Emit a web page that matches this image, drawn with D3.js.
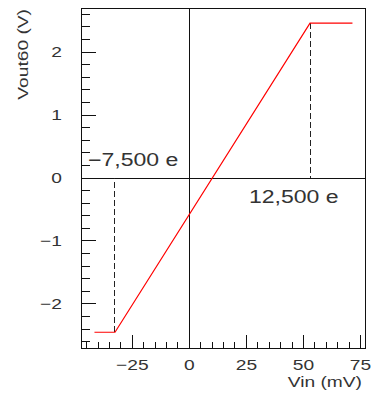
<!DOCTYPE html>
<html>
<head>
<meta charset="utf-8">
<script src="https://cdn.jsdelivr.net/npm/d3@7"></script>
<style>
  body { margin: 0; background: #fff; }
  text { font-family: "Liberation Sans", Arial, sans-serif; fill: #333; }
</style>
</head>
<body>
<svg id="chart" width="372" height="404"></svg>
<script>
// transfer curve
const vin = [-41.6, -32.6, 52.9, 71.5];
const vout = [-2.45, -2.45, 2.46, 2.46];

const xTicks = [-25, 0, 25, 50, 75];
const yTicks = [-2, -1, 0, 1, 2];

// saturation markers
const markerVin = [-32.6, 52.9];
const markerVout = [-2.45, 2.46];
const markerLabels = ["\u22127,500 e", "12,500 e"];

const padL = 81, padR = 365, padT = 8, padB = 348;

const svg = d3.select('svg#chart');

let x = d3.scaleLinear().domain([-47.5, 77]).range([padL, padR]);
let y = d3.scaleLinear().domain([-2.7, 2.7]).range([padB, padT]);

const fmt = d => d < 0 ? '\u2212' + Math.abs(d) : '' + d;
const sx = 1.28; // the original font is drawn wide

function label(g, px, py, txt, size, anchor, rot) {
    g.append('text')
        .attr('transform', `translate(${px},${py})` + (rot ? ` rotate(${rot})` : '') + ` scale(${sx},1)`)
        .attr('text-anchor', anchor)
        .attr('font-size', size)
        .text(txt);
}

// frame
svg.append('rect')
    .attr('x', padL).attr('y', padT)
    .attr('width', padR - padL).attr('height', padB - padT)
    .attr('fill', 'none').attr('stroke', '#111').attr('stroke-width', 1)
    .attr('shape-rendering', 'crispEdges');

// zero lines
svg.append('line')
    .attr('x1', x(0)).attr('x2', x(0)).attr('y1', padT).attr('y2', padB)
    .attr('stroke', '#111').attr('shape-rendering', 'crispEdges');
svg.append('line')
    .attr('x1', padL).attr('x2', padR).attr('y1', y(0)).attr('y2', y(0))
    .attr('stroke', '#111').attr('shape-rendering', 'crispEdges');

// x ticks (pointing up from the bottom)
let xMinor = d3.range(-45, 76, 5);
svg.selectAll('line.xt')
    .data(xMinor)
    .enter().append('line')
    .attr('class', 'xt')
    .attr('x1', d => x(d)).attr('x2', d => x(d))
    .attr('y1', padB)
    .attr('y2', d => padB - (d % 25 === 0 ? 13 : 6))
    .attr('stroke', '#111').attr('shape-rendering', 'crispEdges');

// y ticks (pointing right from the left)
let yMinor = d3.range(-26, 27, 2).map(d => d / 10);
svg.selectAll('line.yt')
    .data(yMinor)
    .enter().append('line')
    .attr('class', 'yt')
    .attr('y1', d => y(d)).attr('y2', d => y(d))
    .attr('x1', padL)
    .attr('x2', d => padL + (Math.abs(d % 1) < 1e-9 ? 15 : 9))
    .attr('stroke', '#111').attr('shape-rendering', 'crispEdges');

xTicks.forEach(d => label(svg, x(d), 370, fmt(d), 15, 'middle'));
yTicks.forEach(d => label(svg, 62, y(d) + 5, fmt(d), 15, 'end'));

// axis titles
label(svg, 362, 387, 'Vin (mV)', 15, 'end');
label(svg, 28, padT + 1, 'Vout60 (V)', 15, 'end', -90);

// dashed markers from saturation to zero
svg.selectAll('line.mk')
    .data(markerVin)
    .enter().append('line')
    .attr('class', 'mk')
    .attr('x1', d => x(d)).attr('x2', d => x(d))
    .attr('y1', (d, i) => y(markerVout[i]))
    .attr('y2', y(0))
    .attr('stroke', '#222')
    .attr('stroke-dasharray', '6,3')
    .attr('shape-rendering', 'crispEdges');

label(svg, 88, 166, markerLabels[0], 18, 'start');
label(svg, 249, 203, markerLabels[1], 18, 'start');

// the curve
let line = d3.line()
    .x((d, i) => x(vin[i]))
    .y(d => y(d));

svg.append('path')
    .datum(vout)
    .attr('d', line)
    .attr('fill', 'none')
    .attr('stroke', '#ff0000')
    .attr('stroke-width', 1.2);
</script>
</body>
</html>
